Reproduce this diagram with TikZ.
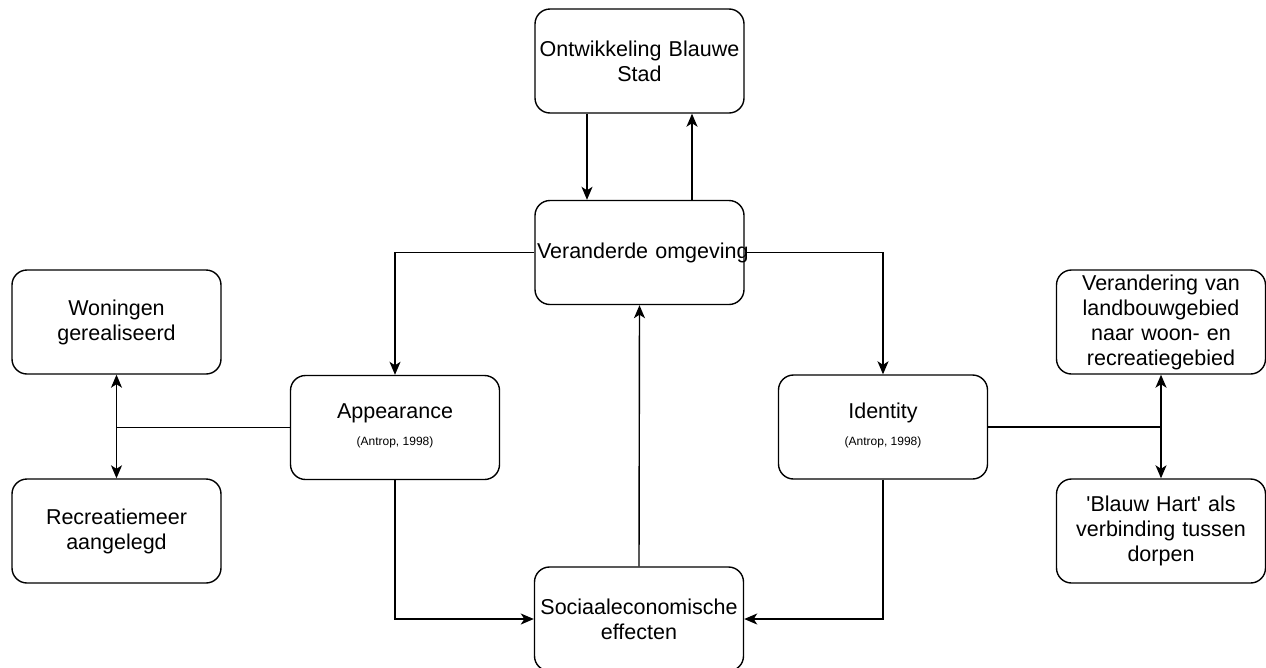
\documentclass[tikz,border=0pt]{standalone}
\usepackage{fontspec}
\setmainfont{Liberation Sans}
\usepackage{tikz}
\usetikzlibrary{positioning,arrows.meta}

\begin{document}
\begin{tikzpicture}[
    x=1pt, y=-1pt,
    box/.style={rectangle, draw=black, line width=1.4pt, rounded corners=15pt,
        minimum width=209pt, minimum height=104pt, inner sep=2pt, text width=205pt,
        align=center, font=\fontsize{21.5}{25}\selectfont},
    link/.style={draw=black, line width=1.4pt},
    arr/.style={link, -{Stealth[length=13pt,width=11pt,inset=3.5pt]}},
    twoarr/.style={link, {Stealth[length=13pt,width=11pt,inset=3.5pt]}-{Stealth[length=13pt,width=11pt,inset=3.5pt]}},
    cite/.style={font=\fontsize{12}{14}\selectfont}
]
\useasboundingbox (0,0) rectangle (1266,667);

% middle column
\node (Stad) [box] at (639.5,61) {Ontwikkeling Blauwe\\Stad};
\node (Omgeving) [box] at (639.5,252.5) {\mbox{Veranderde omgeving}};
\node (Effecten) [box] at (639,619) {Sociaaleconomische\\effecten};

% appearance / identity
\node (Appearance) [box] at (395,427.5) {};
\node (AppText) at ([yshift=14]Appearance.center) {\fontsize{21.5}{25}\selectfont Appearance};
\node (AppCite) [cite] at ([yshift=-15]Appearance.center) {(Antrop, 1998)};
\node (Identity) [box] at (883,427) {};
\node (IdText) at ([yshift=14]Identity.center) {\fontsize{21.5}{25}\selectfont Identity};
\node (IdCite) [cite] at ([yshift=-15]Identity.center) {(Antrop, 1998)};

% left side
\node (Woningen) [box] at (116.5,322) {Woningen\\gerealiseerd};
\node (Meer) [box] at (116.5,531) {Recreatiemeer\\aangelegd};

% right side
\node (Landbouw) [box] at (1161,322) {Verandering van\\landbouwgebied\\naar woon- en\\recreatiegebied};
\node (Hart) [box] at (1161,531) {\textquotesingle Blauw Hart\textquotesingle{} als\\verbinding tussen\\dorpen};

\coordinate (LeftJoin) at (116.5,427.5);
\coordinate (RightJoin) at (1161,427);

\draw [arr] ([xshift=-52.5]Stad.south) -- ([xshift=-52.5]Omgeving.north);
\draw [arr] ([xshift=52.5]Omgeving.north) -- ([xshift=52.5]Stad.south);
\draw [arr] (Omgeving.west) -| (Appearance.north);
\draw [arr] (Omgeving.east) -| (Identity.north);
\draw [arr] (Appearance.south) |- (Effecten.west);
\draw [arr] (Identity.south) |- (Effecten.east);
\draw [arr] (Effecten.north) -- (Omgeving.south);

\draw [link] (Appearance.west) -- (LeftJoin);
\draw [twoarr] (Woningen.south) -- (Meer.north);
\draw [link] (Identity.east) -- (RightJoin);
\draw [twoarr] (Landbouw.south) -- (Hart.north);
\end{tikzpicture}
\end{document}
